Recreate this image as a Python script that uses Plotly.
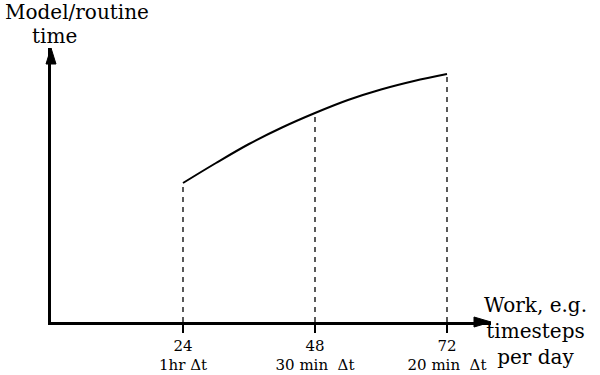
import plotly.graph_objects as go

# data
work_x = [24, 30, 36, 42, 48, 54, 60, 66, 72]
model_time = [139, 159, 178, 194.5, 209, 222, 232.5, 241, 248]
tick_vals = [24, 48, 72]
tick_labels = ["24<br>1hr Δt", "48<br>30 min\u00a0\u00a0Δt", "72<br>20 min\u00a0\u00a0Δt"]

FONT = "DejaVu Serif"
XMAX, YMAX = 80, 274

fig = go.Figure()

# dashed guides from axis to curve at each tick value
dx, dy = [], []
for v in tick_vals:
    yv = model_time[work_x.index(v)]
    dx += [v, v, None]
    dy += [0, yv, None]
fig.add_trace(go.Scatter(x=dx, y=dy, mode="lines",
                         line=dict(color="black", width=1.3, dash="5px,5px"),
                         hoverinfo="skip", showlegend=False))

fig.add_trace(go.Scatter(x=work_x, y=model_time, mode="lines",
                         line=dict(color="black", width=2, shape="spline", smoothing=1),
                         showlegend=False))

fig.update_xaxes(range=[0, XMAX], showgrid=False, zeroline=False, automargin=False,
                 showline=True, linecolor="black", linewidth=2.5,
                 ticks="outside", ticklen=8, tickwidth=2, tickcolor="black",
                 tickvals=tick_vals, ticktext=tick_labels,
                 tickfont=dict(family=FONT, size=15, color="black"))
fig.update_yaxes(range=[0, YMAX], showgrid=False, zeroline=False, automargin=False,
                 showline=True, linecolor="black", linewidth=2.5,
                 showticklabels=False, ticks="")

# arrowheads (pixel-sized paths anchored at axis ends, paper refs so not clipped)
fig.add_shape(type="path", xref="paper", yref="paper", xsizemode="pixel", ysizemode="pixel",
              xanchor=0, yanchor=1, path="M-5,-16 L5,-16 L0,0 Z",
              fillcolor="black", line=dict(color="black", width=1))
fig.add_shape(type="path", xref="paper", yref="paper", xsizemode="pixel", ysizemode="pixel",
              xanchor=1, yanchor=0, path="M-17,-5 L-17,5 L0,0 Z",
              fillcolor="black", line=dict(color="black", width=1))

# axis titles (paper coords)
common = dict(xref="paper", yref="paper", showarrow=False,
              xanchor="center", yanchor="middle",
              font=dict(family=FONT, size=20, color="black"))
fig.add_annotation(x=0.059, y=1.131, text="Model/routine", **common)
fig.add_annotation(x=0.009, y=1.044, text="time", **common)
fig.add_annotation(x=1.102, y=-0.033, text="Work, e.g.<br>timesteps<br>per day",
                   align="center", **common)

fig.update_layout(width=600, height=375,
                  margin=dict(l=51, r=109, t=48, b=53),
                  plot_bgcolor="white", paper_bgcolor="white")

fig.write_html("out.html")
